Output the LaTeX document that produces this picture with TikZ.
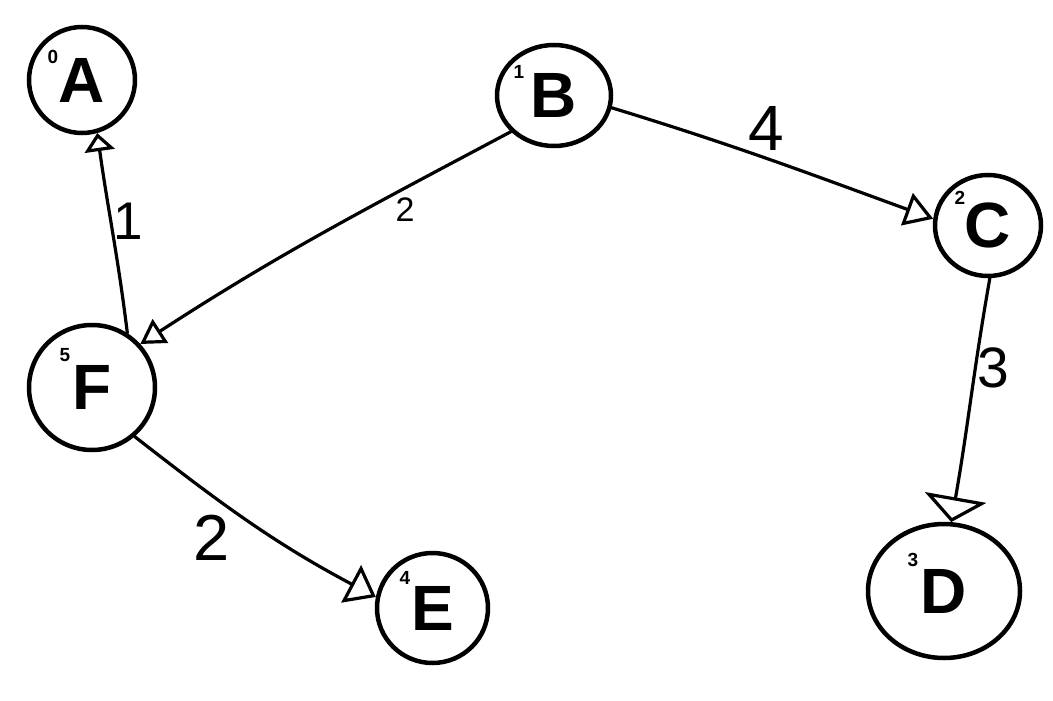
\documentclass[tikz,border=0pt]{standalone}
\usepackage{fontspec}
\setmainfont{Liberation Sans}
\usetikzlibrary{arrows.meta,shapes.geometric}
\begin{document}
\begin{tikzpicture}[x=1pt,y=-1pt,
  vertex/.style={ellipse,draw,line width=4.5pt,inner sep=0pt,
    font=\bfseries\fontsize{64}{64}\selectfont},
  idx/.style={inner sep=0pt,font=\bfseries\fontsize{19}{19}\selectfont},
  wt/.style={inner sep=0pt},
  edge/.style={line width=3.2pt,line cap=round,line join=round}]
\useasboundingbox (0,0) rectangle (1053,701);
\fill[white] (0,0) rectangle (1053,701);

% vertices
\node[vertex,minimum width=106pt,minimum height=106pt] (A) at (82,80) {A};
\node[vertex,minimum width=114pt,minimum height=101pt] (B) at (554,95.5) {B};
\node[vertex,minimum width=106pt,minimum height=101pt] (C) at (988,225.5) {C};
\node[vertex,minimum width=152pt,minimum height=134pt] (D) at (944,591) {D};
\node[vertex,minimum width=111pt,minimum height=110pt] (E) at (432.5,608) {E};
\node[vertex,minimum width=126pt,minimum height=125pt] (F) at (92,387.5) {F};

% indices
\node[idx] (iA) at (53,57) {0};
\node[idx] (iB) at (519,72) {1};
\node[idx] (iC) at (960,198) {2};
\node[idx] (iD) at (913,560) {3};
\node[idx] (iE) at (405,578) {4};
\node[idx] (iF) at (65,355) {5};

% edges
\draw[edge,-{Triangle[open,length=18pt,width=30pt]}] (F.57) to[out=97,in=-82] (A.-74);
\draw[edge,-{Triangle[open,length=24pt,width=28pt]}] (B.220) to[out=208,in=33] (F.42);
\draw[edge,-{Triangle[open,length=28pt,width=34pt]}] (B.-12) to[out=-17,in=160] (C.173);
\draw[edge,-{Triangle[open,length=25pt,width=62pt]}] (C.-88) to[out=-100,in=80] (D.84);
\draw[edge,-{Triangle[open,length=28pt,width=42pt]}] (F.-49) to[out=-38,in=152] (E.169);

% weights
\node[wt,font=\fontsize{53}{53}\selectfont] (w1) at (128,221) {1};
\node[wt,font=\fontsize{34}{34}\selectfont] (w2) at (405,210) {2};
\node[wt,font=\fontsize{64}{64}\selectfont] (w3) at (766,128) {4};
\node[wt,font=\fontsize{57}{57}\selectfont] (w4) at (993,368) {3};
\node[wt,font=\fontsize{65}{65}\selectfont] (w5) at (212,538) {2};
\end{tikzpicture}
\end{document}
